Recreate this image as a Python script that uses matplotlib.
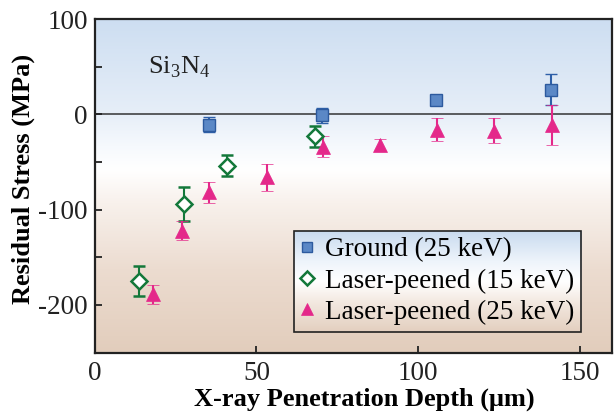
import matplotlib
matplotlib.use("Agg")
import matplotlib.pyplot as plt
import numpy as np
from matplotlib.colors import LinearSegmentedColormap

# ---- data ----
ground_x = [35.3, 70.3, 105.4, 141.1]
ground_y = [-11, -1, 15.5, 26]
ground_err = [8, 8, 0, 16.5]

lp15_x = [13.7, 27.6, 40.8, 68.2]
lp15_y = [-175, -94, -54, -23]
lp15_err = [16, 18, 11, 11]

lp25_x = [18.1, 26.9, 35.4, 53.1, 70.7, 88.2, 105.7, 123.4, 141.3]
lp25_y = [-189, -122, -82, -66, -34, -32, -16, -17, -11]
lp25_err = [10, 10, 11, 14, 11, 6, 12.5, 13, 21]

xticks = [0, 50, 100, 150]
yticks = [100, 0, -100, -200]
labels = ["Ground (25 keV)", "Laser-peened (15 keV)", "Laser-peened (25 keV)"]

plt.rcParams['font.family'] = ['Liberation Serif', 'DejaVu Serif']
plt.rcParams['mathtext.fontset'] = 'custom'
plt.rcParams['mathtext.rm'] = 'Liberation Serif'
plt.rcParams['axes.unicode_minus'] = False

fig = plt.figure(figsize=(6.14, 4.18), dpi=100)
ax = fig.add_axes([0.1544, 0.1565, 0.9971 - 0.1544, 0.9545 - 0.1565])
ax.set_xlim(0, 160)
ax.set_ylim(-250, 100)

# background gradient
bg = LinearSegmentedColormap.from_list("bg", [
    (0.0, "#e2cdbc"), (0.25, "#ecdcd0"), (0.45, "#f8f1ec"), (0.55, "#ffffff"),
    (0.62, "#f6f9fd"), (0.72, "#e6eef8"), (1.0, "#cddef1")])
grad = np.linspace(0, 1, 256).reshape(-1, 1)
ax.imshow(grad, cmap=bg, origin="lower", aspect="auto",
          extent=[0, 160, -250, 100], zorder=0)

ax.axhline(0, color="#333333", lw=1.1, zorder=1)

green = "#13783a"
pink = "#e4288a"

ax.errorbar(ground_x, ground_y, yerr=ground_err, fmt="s", ms=8.6,
            mfc="#5b88c6", mec="#2d5a9e", mew=1.0, ecolor="#2e5fa8",
            elinewidth=1.5, capsize=4, capthick=1.5, zorder=3,
            label=labels[0])
ax.errorbar(lp15_x, lp15_y, yerr=lp15_err, fmt="D", ms=8.2,
            mfc="white", mec=green, mew=1.8, ecolor=green,
            elinewidth=1.5, capsize=4, capthick=1.5, zorder=3,
            label=labels[1])
ax.errorbar(lp25_x, lp25_y, yerr=lp25_err, fmt="^", ms=10,
            mfc=pink, mec=pink, mew=0.5, ecolor=pink,
            elinewidth=1.5, capsize=4, capthick=1.5, zorder=3,
            label=labels[2])

ax.text(0.103, 0.855, r"Si$_3$N$_4$", transform=ax.transAxes, fontsize=19,
        color="#222222", va="center", ha="left")

ax.set_xticks(xticks)
ax.set_yticks(yticks)
ax.set_yticks([50, -50, -150, -250], minor=True)
ax.tick_params(axis="both", which="both", direction="in", labelsize=19.5,
               width=1.3, length=5, colors="#222222")
ax.tick_params(axis="y", which="minor", length=5)
ax.tick_params(axis="x", pad=6)
ax.tick_params(axis="y", pad=5)
for s in ax.spines.values():
    s.set_linewidth(1.6)
    s.set_color("#222222")

ax.set_xlabel("X-ray Penetration Depth (μm)", fontsize=19, fontweight="bold")
ax.set_ylabel("Residual Stress (MPa)", fontsize=19, fontweight="bold")
ax.xaxis.set_label_coords(0.52, -0.104)
ax.yaxis.set_label_coords(-0.1156, 0.52)

handles, labs = ax.get_legend_handles_labels()
handles = [h[0] for h in handles]
leg = ax.legend(handles, labs, loc="lower right", bbox_to_anchor=(0.940, 0.063),
                borderaxespad=0, fontsize=19.5, frameon=True, fancybox=False,
                handlelength=0.5, handletextpad=0.4, borderpad=0.25,
                labelspacing=0.22, markerscale=0.85)
frame = leg.get_frame()
frame.set_alpha(None)
frame.set_facecolor("none")
frame.set_edgecolor("#222222")
frame.set_linewidth(1.2)
leg.set_zorder(6)

fig.canvas.draw()
bb = leg.get_window_extent().transformed(ax.transData.inverted())
lg = LinearSegmentedColormap.from_list("lg", [
    (0.0, "#e3cfbf"), (0.3, "#f3e9e1"), (0.5, "#ffffff"),
    (0.7, "#eef4fb"), (1.0, "#c9dbef")])
ax.imshow(grad, cmap=lg, origin="lower", aspect="auto",
          extent=[bb.x0, bb.x1, bb.y0, bb.y1], zorder=5)
ax.set_xlim(0, 160)
ax.set_ylim(-250, 100)

fig.savefig("out.png", dpi=100)
